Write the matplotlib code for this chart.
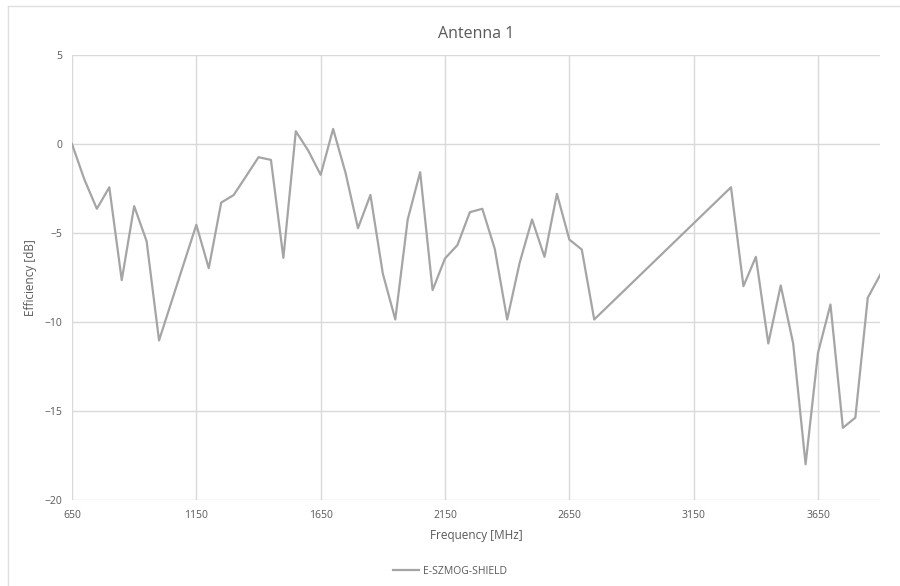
import matplotlib.pyplot as plt
from matplotlib.lines import Line2D

freq = [650, 700, 750, 800, 850, 900, 950, 1000, 1050, 1100, 1150, 1200, 1250, 1300,
        1350, 1400, 1450, 1500, 1550, 1600, 1650, 1700, 1750, 1800, 1850, 1900, 1950,
        2000, 2050, 2100, 2150, 2200, 2250, 2300, 2350, 2400, 2450, 2500, 2550, 2600,
        2650, 2700, 2750, 3300, 3350, 3400, 3450, 3500, 3550, 3600, 3650, 3700, 3750,
        3800, 3850, 3900]
eff = [0.0, -2.0, -3.64, -2.43, -7.65, -3.49, -5.46, -11.04, -8.87, -6.7, -4.54, -6.98,
       -3.29, -2.87, -1.81, -0.74, -0.89, -6.4, 0.72, -0.37, -1.73, 0.85, -1.62, -4.73,
       -2.86, -7.29, -9.86, -4.24, -1.58, -8.21, -6.43, -5.68, -3.83, -3.64, -5.89,
       -9.86, -6.68, -4.24, -6.34, -2.80, -5.37, -5.93, -9.86, -2.43, -7.99, -6.34,
       -11.21, -7.95, -11.21, -18.0, -11.73, -9.02, -15.95, -15.38, -8.64, -7.35]

txt = "#595959"
plt.rcParams["font.family"] = ["Open Sans", "DejaVu Sans"]

fig = plt.figure(figsize=(9, 5.86), dpi=100)
ax = fig.add_axes([0.08, 0.147, 0.898, 0.759])

ax.plot(freq, eff, color="#a5a5a5", lw=1.6, label="E-SZMOG-SHIELD")

ax.set_xlim(650, 3900)
ax.set_ylim(-20, 5)
ax.set_xticks(range(650, 3900, 500))
ax.set_yticks(range(-20, 6, 5))
ax.grid(True, color="#d9d9d9", lw=1)
ax.set_axisbelow(True)
for s in ax.spines.values():
    s.set_visible(False)
ax.tick_params(length=0, labelsize=7.5, colors=txt, pad=7)

ax.set_title("Antenna 1", fontsize=11.5, color=txt, pad=12)
ax.set_xlabel("Frequency [MHz]", fontsize=8.5, color=txt, labelpad=6)
ax.set_ylabel("Efficiency [dB]", fontsize=8.5, color=txt, labelpad=5)

leg = fig.legend(loc="center", bbox_to_anchor=(0.5, 1 - 571 / 586), frameon=False,
                 fontsize=7.5, handlelength=2.5, handletextpad=0.3)
for t in leg.get_texts():
    t.set_color(txt)

# thin chart-area border (top and left edges visible)
fig.add_artist(Line2D([8 / 900, 1], [1 - 6 / 586] * 2, color="#e0e0e0", lw=1, transform=fig.transFigure))
fig.add_artist(Line2D([8 / 900] * 2, [0, 1 - 6 / 586], color="#e0e0e0", lw=1, transform=fig.transFigure))

fig.savefig("out.png", dpi=100)
